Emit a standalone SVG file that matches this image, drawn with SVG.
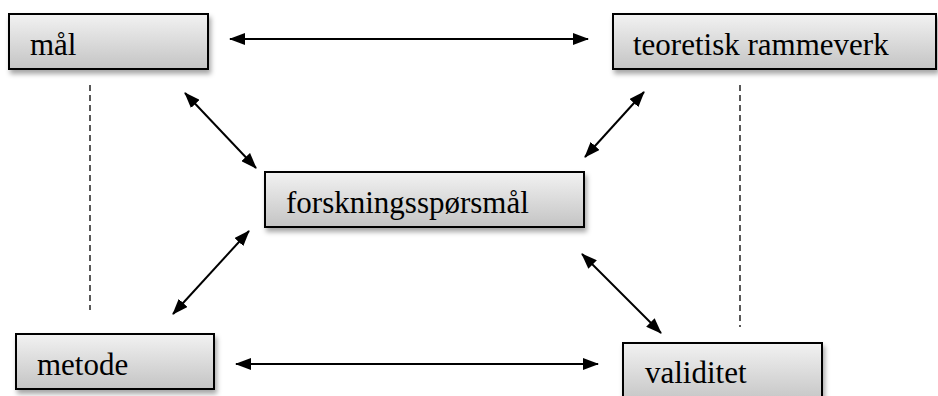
<svg xmlns="http://www.w3.org/2000/svg" width="938" height="396" viewBox="0 0 938 396">
<style>
.box{fill:url(#g);stroke:#000;stroke-width:2;filter:url(#sh)}
.lbl{font-family:"Times New Roman","Liberation Serif",Tinos,"Noto Serif","DejaVu Serif",FreeSerif,serif;font-size:31px;fill:#000}
.con{stroke:#000;stroke-width:2;fill:none;marker-start:url(#a);marker-end:url(#a)}
.dash{stroke:#000;stroke-width:1.3;stroke-dasharray:6,4;fill:none}
</style>
<defs>
<linearGradient id="g" x1="0" y1="0" x2="0" y2="1">
<stop offset="0" stop-color="#f2f2f2"/>
<stop offset="1" stop-color="#c4c4c4"/>
</linearGradient>
<filter id="sh" x="-10%" y="-20%" width="130%" height="160%">
<feDropShadow dx="2" dy="4" stdDeviation="2.5" flood-color="#000" flood-opacity="0.35"/>
</filter>
<marker id="a" viewBox="0 0 16 12" refX="15" refY="6" markerWidth="16" markerHeight="12" markerUnits="userSpaceOnUse" orient="auto-start-reverse">
<path d="M0,0 L16,6 L0,12 Z" fill="#000"/>
</marker>
</defs>
<g id="connectors">
<line class="con" x1="230" y1="39" x2="588" y2="39"/>
<line class="con" x1="236" y1="364" x2="598" y2="364"/>
<line class="con" x1="185" y1="93" x2="256" y2="168"/>
<line class="con" x1="644" y1="92" x2="585" y2="157"/>
<line class="con" x1="249" y1="231" x2="173" y2="314"/>
<line class="con" x1="582" y1="254" x2="661" y2="333"/>
<line class="dash" x1="90" y1="85" x2="90" y2="310"/>
<line class="dash" x1="740" y1="85" x2="740" y2="327"/>
</g>
<g id="n-maal">
<rect class="box" x="9" y="14" width="199" height="55"/>
<text class="lbl" x="30" y="55">mål</text>
</g>
<g id="n-teoretisk">
<rect class="box" x="613" y="14" width="323" height="55"/>
<text class="lbl" x="633" y="55">teoretisk rammeverk</text>
</g>
<g id="n-forskning">
<rect class="box" x="265" y="172" width="319" height="55"/>
<text class="lbl" x="286" y="213">forskningsspørsmål</text>
</g>
<g id="n-metode">
<rect class="box" x="16" y="334" width="198" height="55"/>
<text class="lbl" x="37" y="375">metode</text>
</g>
<g id="n-validitet">
<rect class="box" x="623" y="343" width="199" height="60"/>
<text class="lbl" x="645" y="383">validitet</text>
</g>
</svg>
